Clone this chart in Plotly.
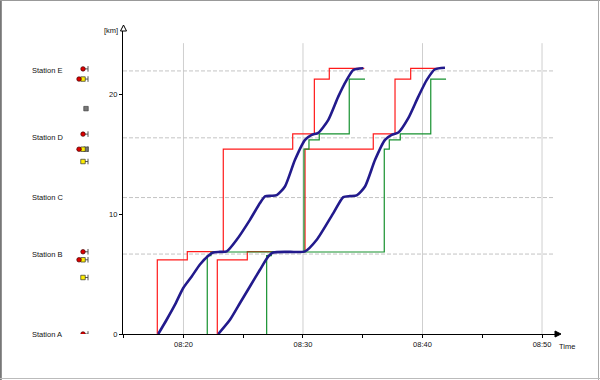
import pandas as pd
import plotly.graph_objects as go

# ---------------- data ----------------
BASE = pd.Timestamp("2024-01-01 08:00")

station_names = ["Station A", "Station B", "Station C", "Station D", "Station E"]
station_km = [0.0, 6.68, 11.40, 16.39, 21.98]

# times in minutes after 08:00, distances in km
red1_t = [17.81, 17.81, 20.32, 23.33, 29.14, 30.95, 32.20, 35.13]
red1_km = [0.0, 6.20, 6.89, 15.44, 16.72, 21.30, 22.20, 22.20]
red2_t = [22.83, 22.83, 25.34, 30.17, 35.88, 37.70, 39.01, 41.88]
red2_km = [0.0, 6.20, 6.89, 15.44, 16.72, 21.30, 22.20, 22.20]

green1_t = [21.99, 21.99, 22.30, 30.08, 30.50, 31.36, 33.87, 35.19]
green1_km = [0.0, 6.55, 6.85, 15.44, 16.22, 16.72, 21.30, 21.30]
green2_t = [26.96, 26.96, 27.35, 36.80, 37.22, 38.14, 40.69, 41.97]
green2_km = [0.0, 6.55, 6.85, 15.44, 16.22, 16.72, 21.30, 21.30]

blue1_t = [17.89, 18.59, 19.29, 19.98, 20.69, 21.38, 22.08, 22.49, 23.05, 23.62,
           24.45, 25.56, 26.40, 26.82, 27.31, 27.80, 28.49, 29.33, 30.17, 30.73,
           31.28, 32.12, 32.95, 33.66, 34.21, 35.05]
blue1_km = [0.0, 1.19, 2.45, 3.84, 4.81, 5.81, 6.54, 6.81, 6.86, 6.90,
            7.87, 9.54, 10.94, 11.50, 11.55, 11.60, 12.32, 14.55, 16.22, 16.64,
            16.80, 17.89, 19.83, 21.23, 22.06, 22.20]
blue2_t = [22.91, 23.89, 24.73, 25.56, 26.40, 27.10, 27.51, 28.91, 30.17,
           31.15, 32.54, 33.37, 33.93, 34.49, 35.19, 36.03, 36.86, 37.42,
           37.98, 38.81, 39.65, 40.36, 41.05, 41.88]
blue2_km = [0.0, 1.19, 2.59, 3.97, 5.37, 6.48, 6.81, 6.86, 6.90,
            7.87, 10.10, 11.44, 11.52, 11.58, 12.32, 14.55, 16.22, 16.64,
            16.83, 18.03, 19.83, 21.23, 22.12, 22.25]

# left-hand indicator glyphs
mark_red_km = [22.15, 21.30, 16.70, 15.44, 6.87, 6.20, 0.0]
mark_red_col = [1, 0, 1, 0, 1, 0, 1]
mark_yellow_km = [21.30, 15.44, 14.41, 6.20, 4.72]
mark_gray_km = [18.83, 15.44]
mark_tick_km = [22.15, 21.30, 16.70, 15.44, 14.41, 6.87, 6.20, 4.72, 0.0]

x_ticks_min = [20, 30, 40, 50]
y_ticks = [0, 10, 20]

# ---------------- helpers ----------------
def tm(mins):
    return [BASE + pd.to_timedelta(m, unit="min") for m in mins]

COL_PX = [79, 83, 86]
TICK_END = 88
W, H = 600, 380
TOP, BOT = 27, 46
PLOT_H = H - TOP - BOT

def px_x(p):
    return p / W

def px_y(p):
    return (H - BOT - p) / PLOT_H

FONT = "Liberation Sans, Arial, sans-serif"
RED = "#ff1a1a"
GREEN = "#16912f"
BLUE = "#221a8c"

fig = go.Figure()

for t, k in [(red1_t, red1_km), (red2_t, red2_km)]:
    fig.add_trace(go.Scatter(x=tm(t), y=k, mode="lines", line=dict(color=RED, width=1.2, shape="hv"),
                             hoverinfo="skip", showlegend=False))
for t, k in [(green1_t, green1_km), (green2_t, green2_km)]:
    fig.add_trace(go.Scatter(x=tm(t), y=k, mode="lines", line=dict(color=GREEN, width=1.2, shape="hv"),
                             hoverinfo="skip", showlegend=False))
for t, k in [(blue1_t, blue1_km), (blue2_t, blue2_km)]:
    fig.add_trace(go.Scatter(x=tm(t), y=k, mode="lines",
                             line=dict(color=BLUE, width=2.6, shape="spline", smoothing=0.6),
                             hoverinfo="skip", showlegend=False))

# indicator ticks
tx, ty = [], []
for k in mark_tick_km:
    tx += [COL_PX[1], TICK_END, None]
    ty += [k, k, None]
fig.add_trace(go.Scatter(x=tx, y=ty, xaxis="x2", mode="lines", line=dict(color="#555", width=1),
                         hoverinfo="skip", showlegend=False))
fig.add_trace(go.Scatter(x=[TICK_END] * len(mark_tick_km), y=mark_tick_km, xaxis="x2", mode="markers",
                         marker=dict(symbol="line-ns", size=4, line=dict(color="#555", width=1)),
                         hoverinfo="skip", showlegend=False))
fig.add_trace(go.Scatter(x=[COL_PX[2]] * len(mark_gray_km), y=mark_gray_km, xaxis="x2", mode="markers",
                         marker=dict(symbol="square", size=4.5, color="#777", line=dict(color="#333", width=0.6)),
                         hoverinfo="skip", showlegend=False))
fig.add_trace(go.Scatter(x=[COL_PX[1]] * len(mark_yellow_km), y=mark_yellow_km, xaxis="x2", mode="markers",
                         marker=dict(symbol="square", size=4.5, color="#ffee00", line=dict(color="#333", width=0.7)),
                         hoverinfo="skip", showlegend=False))
fig.add_trace(go.Scatter(x=[COL_PX[c] for c in mark_red_col], y=mark_red_km, xaxis="x2", mode="markers",
                         marker=dict(symbol="circle", size=4.5, color="#dd0000", line=dict(color="#400", width=0.7)),
                         hoverinfo="skip", showlegend=False))

x0 = BASE + pd.to_timedelta(14.94, unit="min")
x1 = BASE + pd.to_timedelta(51.42, unit="min")
grid_end = BASE + pd.to_timedelta(51.0, unit="min")

shapes = []
for m in x_ticks_min:
    xt = BASE + pd.to_timedelta(m, unit="min")
    shapes.append(dict(type="line", xref="x", yref="y", x0=xt, x1=xt, y0=0, y1=24.3,
                       line=dict(color="#cfcfcf", width=1), layer="below"))
for k in station_km[1:]:
    shapes.append(dict(type="line", xref="x", yref="y", x0=x0, x1=grid_end, y0=k, y1=k,
                       line=dict(color="#c4c4c4", width=1, dash="4px,2px"), layer="below"))

# axis arrowheads
shapes.append(dict(type="path", xref="paper", yref="paper",
                   path=f"M {px_x(123.5)},{px_y(25)} L {px_x(120.5)},{px_y(31)} L {px_x(126.5)},{px_y(31)} Z",
                   fillcolor="white", line=dict(color="black", width=1)))
shapes.append(dict(type="path", xref="paper", yref="paper",
                   path=f"M {px_x(561)},{px_y(334)} L {px_x(555)},{px_y(331)} L {px_x(555)},{px_y(337)} Z",
                   fillcolor="black", line=dict(color="black", width=1)))
# frame
shapes.append(dict(type="line", xref="paper", yref="paper", x0=px_x(0.8), x1=px_x(0.8), y0=px_y(0), y1=px_y(380),
                   line=dict(color="#777", width=2)))
shapes.append(dict(type="line", xref="paper", yref="paper", x0=0, x1=1, y0=px_y(0.5), y1=px_y(0.5),
                   line=dict(color="#999", width=1)))
shapes.append(dict(type="line", xref="paper", yref="paper", x0=px_x(598.5), x1=px_x(598.5), y0=px_y(0), y1=px_y(380),
                   line=dict(color="#aaa", width=1)))
shapes.append(dict(type="line", xref="paper", yref="paper", x0=0, x1=1, y0=px_y(378.5), y1=px_y(378.5),
                   line=dict(color="#bbb", width=1)))

annotations = []
for name, k in zip(station_names, station_km):
    annotations.append(dict(text=name, xref="paper", yref="y", x=px_x(30), y=k, xanchor="left",
                            yanchor="middle", showarrow=False, font=dict(size=7.5, color="#111", family=FONT)))
annotations.append(dict(text="[km]", xref="paper", yref="paper", x=px_x(119.5), y=px_y(30), xanchor="right",
                        yanchor="middle", showarrow=False, font=dict(size=7.5, color="#111", family=FONT)))
annotations.append(dict(text="Time", xref="paper", yref="paper", x=px_x(557), y=px_y(346.5), xanchor="left",
                        yanchor="middle", showarrow=False, font=dict(size=7.5, color="#111", family=FONT)))

fig.update_layout(
    width=W, height=H,
    margin=dict(l=0, r=0, t=TOP, b=BOT, pad=0),
    paper_bgcolor="white", plot_bgcolor="white",
    font=dict(family=FONT, size=7.5, color="#111"),
    showlegend=False,
    shapes=shapes, annotations=annotations,
    xaxis=dict(domain=[px_x(123), px_x(559)], type="date", range=[x0, x1],
               tickvals=[BASE + pd.to_timedelta(m, unit="min") for m in x_ticks_min],
               tickformat="%H:%M", ticks="outside", ticklen=3, tickcolor="black", tickwidth=1,
               minor=dict(dtick=300000, tick0=BASE, ticks="outside", ticklen=3, tickcolor="black", showgrid=False),
               showgrid=False, zeroline=False, showline=True, linecolor="black", linewidth=1.3,
               tickfont=dict(size=7.5, color="#111", family=FONT), fixedrange=True),
    yaxis=dict(range=[0, (H - BOT - 25.0) / PLOT_H * 0 + 25.65], tickvals=y_ticks, ticks="outside", ticklen=3,
               tickcolor="black", showgrid=False, zeroline=False, showline=True, linecolor="black",
               linewidth=1.3, tickfont=dict(size=7.5, color="#111", family=FONT), fixedrange=True),
    xaxis2=dict(domain=[0, px_x(120)], range=[0, 120], anchor="y", visible=False, fixedrange=True),
)

fig.write_html("out.html")
